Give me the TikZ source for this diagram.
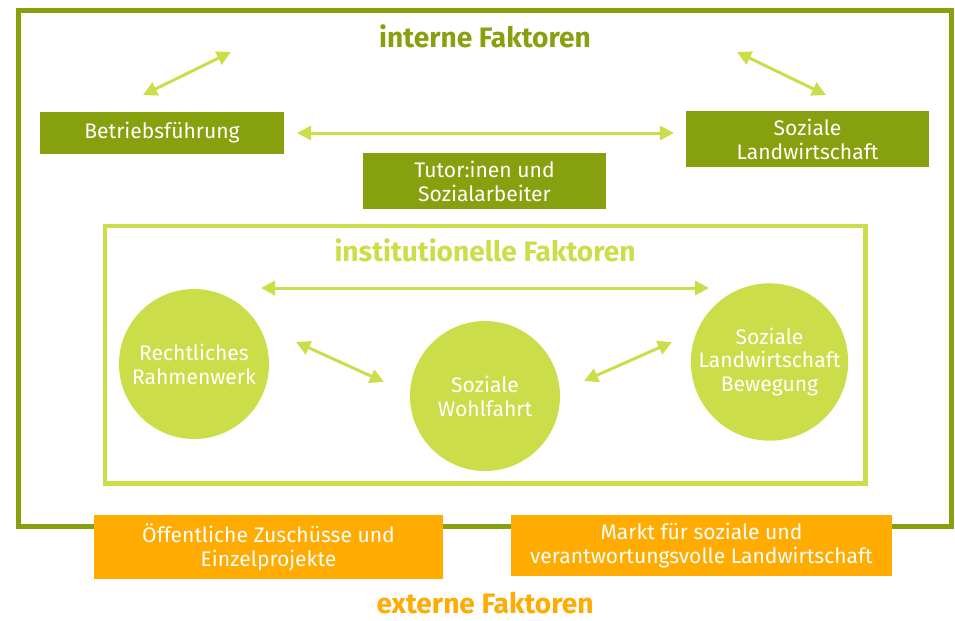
\documentclass[tikz,border=0pt]{standalone}
\usepackage{fontspec}
\setmainfont{Fira Sans}
\usepackage{xcolor}
\usepackage{tikz}
\usetikzlibrary{arrows.meta}
\definecolor{darkolive}{RGB}{134, 160, 14}
\definecolor{limegreen}{RGB}{203, 222, 74}
\definecolor{amberorange}{RGB}{255, 171, 0}

\begin{document}
\begin{tikzpicture}[
    x=0.02cm, y=-0.02cm,
    box/.style={minimum width=4.86cm, minimum height=1.12cm, inner sep=0pt,
                text=white, font=\fontsize{12}{13.6}\selectfont, align=center},
    intbox/.style={box, fill=darkolive},
    extbox/.style={box, fill=amberorange, minimum height=1.26cm},
    factor/.style={circle, fill=limegreen, minimum size=3cm, inner sep=0pt,
                   text=white, font=\fontsize{12}{13.6}\selectfont, align=center},
    title/.style={inner sep=0pt, font=\fontsize{16}{18}\selectfont\bfseries},
    link/.style={limegreen, line width=1.7pt,
                 {Triangle[length=8pt, width=8pt]}-{Triangle[length=8pt, width=8pt]}}
]
    \useasboundingbox (0,0) rectangle (955,620);

    % Frames
    \draw[darkolive, line width=3pt] (18.5,10.5) rectangle (951.5,526.5);
    \draw[limegreen, line width=2.8pt] (105,226) rectangle (865.5,483.5);

    % Titles
    \node[title, text=darkolive] (interne) at (485,36) {interne Faktoren};
    \node[title, text=limegreen] (institutionelle) at (485,250) {institutionelle Faktoren};
    \node[title, text=amberorange] (externe) at (485,603) {externe Faktoren};

    % Internal factors
    \node[intbox, minimum width=4.88cm, minimum height=0.84cm] (betrieb) at (162,133) {Betriebsführung};
    \node[intbox] (solawi) at (807.5,139) {Soziale\\Landwirtschaft};
    \node[intbox] (tutor) at (484.5,181) {Tutor:inen und\\Sozialarbeiter};

    % Institutional factors
    \node[factor] (recht) at (194,364) {Rechtliches\\Rahmenwerk};
    \node[factor] (wohlfahrt) at (485,396) {Soziale\\Wohlfahrt};
    \node[factor] (bewegung) at (769.5,362) {Soziale\\Landwirtschaft\\Bewegung};

    % External factors
    \node[extbox, minimum width=6.98cm, minimum height=1.28cm] (zuschuss) at (268.5,547) {Öffentliche Zuschüsse und\\Einzelprojekte};
    \node[extbox, minimum width=7.62cm, minimum height=1.22cm] (markt) at (701.5,545.5) {Markt für soziale und\\verantwortungsvolle Landwirtschaft};

    % Arrow ends
    \coordinate (a1) at (143,95);
    \coordinate (a2) at (231,52);
    \coordinate (b1) at (737,52);
    \coordinate (b2) at (826,95);
    \coordinate (c1) at (297,133);
    \coordinate (c2) at (674,133);
    \coordinate (d1) at (261,288);
    \coordinate (d2) at (709,288);
    \coordinate (e1) at (296,342);
    \coordinate (e2) at (384,382);
    \coordinate (f1) at (584,381);
    \coordinate (f2) at (672,342);

    % Arrows
    \draw[link] (a1) -- (a2);
    \draw[link] (b1) -- (b2);
    \draw[link] (c1) -- (c2);
    \draw[link] (d1) -- (d2);
    \draw[link] (e1) -- (e2);
    \draw[link] (f1) -- (f2);
\end{tikzpicture}
\end{document}
